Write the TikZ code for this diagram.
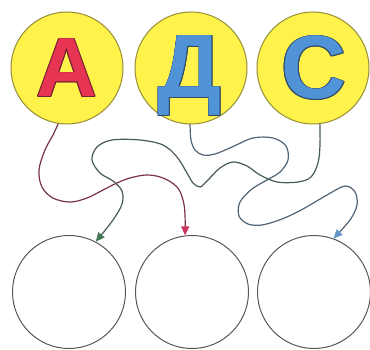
\documentclass[tikz,border=0pt]{standalone}
\usepackage{fontspec}
\setmainfont{Liberation Sans}
\usetikzlibrary{arrows.meta}
\definecolor{cyel}{RGB}{255,243,75}
\definecolor{cyelb}{RGB}{150,140,55}
\definecolor{cred}{RGB}{230,52,82}
\definecolor{credo}{RGB}{120,35,50}
\definecolor{cblu}{RGB}{80,148,215}
\definecolor{cbluo}{RGB}{50,75,105}
\definecolor{lred}{RGB}{120,50,70}
\definecolor{tred}{RGB}{205,55,95}
\definecolor{lgrn}{RGB}{70,92,82}
\definecolor{tgrn}{RGB}{70,120,90}
\definecolor{lblu}{RGB}{80,100,118}
\definecolor{tblu}{RGB}{100,150,200}
\newcommand\olcp[2]{\rlap{\kern#1\raise#2\copy0}}
\newcommand\outlined[3]{\setbox0=\hbox{#3}%
  \rlap{\color{#1}\olcp{0.95pt}{0pt}\olcp{-0.95pt}{0pt}\olcp{0pt}{0.95pt}\olcp{0pt}{-0.95pt}%
  \olcp{0.67pt}{0.67pt}\olcp{0.67pt}{-0.67pt}\olcp{-0.67pt}{0.67pt}\olcp{-0.67pt}{-0.67pt}}%
  {\color{#2}\box0}}
\tikzset{
  topc/.style={circle, draw=cyelb, fill=cyel, line width=1pt, minimum size=112pt, inner sep=0pt},
  botc/.style={circle, draw=black!65, fill=white, line width=1pt, minimum size=113pt, inner sep=0pt},
  letter/.style={inner sep=0pt, anchor=base, font=\bfseries},
  path/.style={line width=1.2pt, line cap=round},
}
\begin{document}
\begin{tikzpicture}[x=1pt, y=-1pt]
\useasboundingbox[fill=white] (0,0) rectangle (370,350);
\node[topc] (ta) at (67,68) {};
\node[topc] (td) at (191,68) {};
\node[topc] (tc) at (313,68) {};
\node[botc] (bl) at (69,292) {};
\node[botc] (bm) at (192,292) {};
\node[botc] (br) at (314,292) {};
\node[letter] (la) at (67,97) {\fontsize{84}{84}\selectfont\outlined{credo}{cred}{А}};
\node[letter] (ld) at (190,98) {\fontsize{90}{90}\selectfont\outlined{cbluo}{cblu}{Д}};
\node[letter] (lc) at (314,99) {\fontsize{90}{90}\selectfont\outlined{cbluo}{cblu}{С}};
% red: A -> middle
\draw[path, draw=lred, -{Triangle[length=9pt, width=8pt, color=tred]}]
  plot[smooth, tension=0.6] coordinates {(ta.261) (53,135) (45,150) (39,170) (42,187) (53,198) (70,202) (87,198) (103,190) (117,183) (130,178) (147,175) (163,178) (177,187) (183,200) (185,215) (bm.97)};
% green: C -> left
\draw[path, draw=lgrn, -{Triangle[length=9pt, width=8pt, color=tgrn]}]
  plot[smooth, tension=0.55] coordinates {(tc.-83) (320,145) (318,163) (311,177) (298,182) (277,182) (260,175) (247,166) (233,162) (220,168) (207,181) (200,187) (193,183) (187,173) (177,157) (163,145) (140,140) (112,140) (97,147) (92,160) (100,173) (113,181) (122,191) (122,204) (113,220) (bl.62)};
% blue: D -> right
\draw[path, draw=lblu, -{Triangle[length=9pt, width=8pt, color=tblu]}]
  plot[smooth, tension=0.55] coordinates {(td.-91) (191,140) (195,150) (203,155) (215,154) (232,147) (253,138) (273,138) (286,146) (288,160) (280,172) (267,180) (252,189) (240,202) (239,216) (248,224) (262,225) (282,219) (303,209) (327,195) (345,186) (355,192) (357,205) (350,220) (br.70)};
\end{tikzpicture}
\end{document}
